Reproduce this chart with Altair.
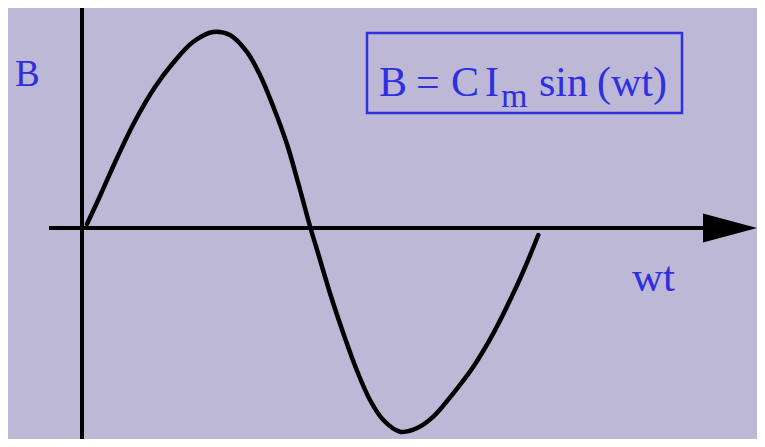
import altair as alt
import pandas as pd

# Curve points (horizontal position, vertical position in image pixels)
curve_x = [87, 100, 117, 135, 155, 173, 193, 213, 230, 246.7, 260, 273.3, 286.7, 299, 310.5,
           318, 330, 343.3, 356.7, 370, 383.3, 400, 416.7, 433.3, 453.3, 473.3, 493.3, 513.3, 526.7, 538.3]
curve_y = [224, 196, 158, 121, 87, 63, 42, 32, 35, 51.7, 75, 106.7, 143.3, 186, 228,
           253, 293.3, 333.3, 370, 400, 420, 431.7, 428.3, 416.7, 393.3, 366.7, 333.3, 293.3, 263.3, 235]

# Axes geometry
v_axis = {"x": 82, "y": 8, "y2": 439}
h_axis = {"x": 49, "x2": 706, "y": 228}
arrow = {"x": 730, "y": 228}

# Labels
label_text = ["B", "wt"]
label_x = [15, 632]
label_y = [86, 291]
label_size = [37, 43]

# Formula box
box = {"x": 367, "x2": 682, "y": 33, "y2": 113}
formula_text = ["B", "=", "C", "I", "m", "sin", "(wt)"]
formula_x = [379, 416, 451, 485, 501, 539, 597]
formula_y = [96, 96, 96, 96, 107, 96, 96]
formula_size = [42, 42, 42, 42, 34, 42, 42]

BG = "#BCB8D6"
BLUE = "#2F2FE0"

xs = alt.Scale(domain=[8, 757], nice=False, zero=False)
ys = alt.Scale(domain=[8, 439], nice=False, zero=False, reverse=True)

def X(field="x"):
    return alt.X(f"{field}:Q", scale=xs, axis=None)

def Y(field="y"):
    return alt.Y(f"{field}:Q", scale=ys, axis=None)

curve_df = pd.DataFrame({"x": curve_x, "y": curve_y})
curve = alt.Chart(curve_df).mark_line(color="black", strokeWidth=4.5, interpolate="catmull-rom",
                                       strokeCap="round").encode(x=X(), y=Y())

vline = alt.Chart(pd.DataFrame([v_axis])).mark_rule(color="black", strokeWidth=4).encode(
    x=X(), y=Y(), y2="y2:Q")
hline = alt.Chart(pd.DataFrame([h_axis])).mark_rule(color="black", strokeWidth=4).encode(
    x=X(), x2="x2:Q", y=Y())
head = alt.Chart(pd.DataFrame([arrow])).mark_point(
    shape="M -1 -0.54 L 1 0 L -1 0.54 Z", filled=True, color="black", opacity=1, size=2916,
    strokeWidth=0).encode(x=X(), y=Y())

labels_df = pd.DataFrame({"t": label_text, "x": label_x, "y": label_y, "s": label_size})
labels = alt.Chart(labels_df).mark_text(font="Liberation Serif", color=BLUE, align="left",
                                         baseline="alphabetic").encode(
    x=X(), y=Y(), text="t:N", size=alt.Size("s:Q", scale=None, legend=None))

boxm = alt.Chart(pd.DataFrame([box])).mark_rect(fill=None, stroke=BLUE, strokeWidth=2.5).encode(
    x=X(), x2="x2:Q", y=Y(), y2="y2:Q")

f_df = pd.DataFrame({"t": formula_text, "x": formula_x, "y": formula_y, "s": formula_size})
formula = alt.Chart(f_df).mark_text(font="Liberation Serif", color=BLUE, align="left",
                                     baseline="alphabetic").encode(
    x=X(), y=Y(), text="t:N", size=alt.Size("s:Q", scale=None, legend=None))

chart = alt.layer(vline, hline, head, curve, boxm, labels, formula).properties(
    width=749, height=431, background=BG, padding=0,
    autosize=alt.AutoSizeParams(type="none"),
).configure_view(stroke=None)

chart.save("out.html", embed_options={"renderer": "svg", "actions": False})
